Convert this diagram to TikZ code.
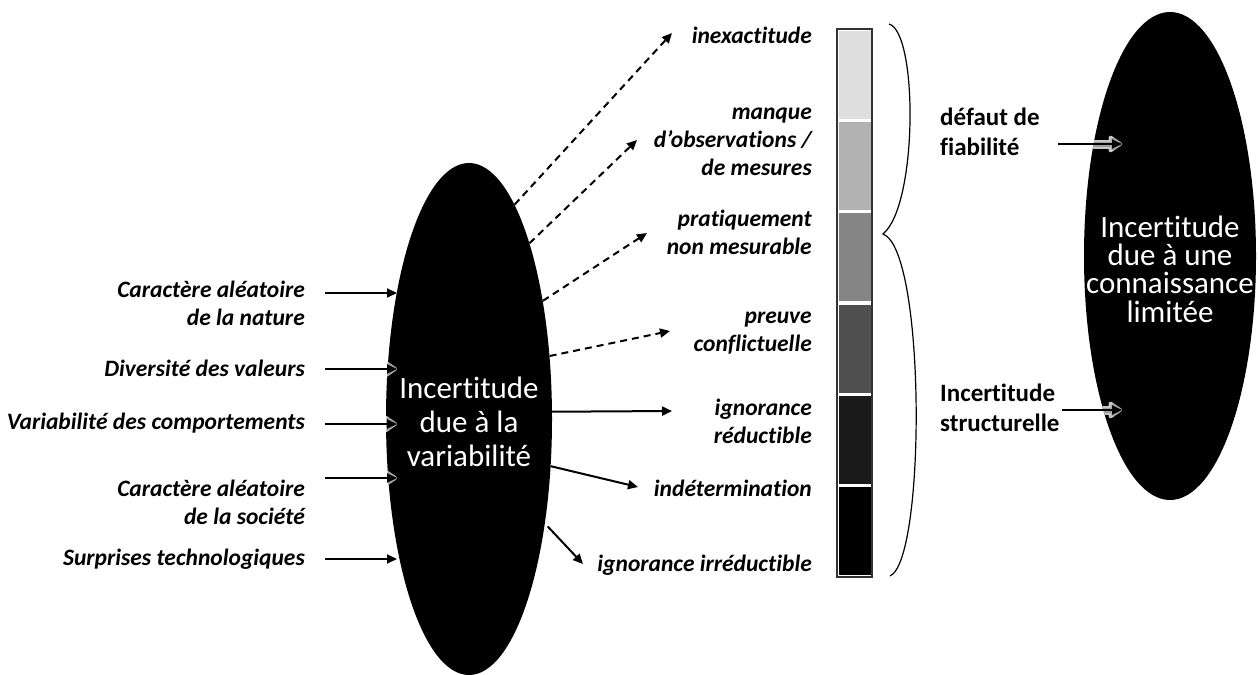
\documentclass[tikz,border=0pt]{standalone}
\usepackage{fontspec}
\setmainfont{Carlito}[Ligatures={NoCommon}]
\usetikzlibrary{shapes.geometric,arrows.meta,positioning}
\definecolor{tone1}{HTML}{DEDEDE}
\definecolor{tone2}{HTML}{B2B2B2}
\definecolor{tone3}{HTML}{858585}
\definecolor{tone4}{HTML}{4F4F4F}
\definecolor{tone5}{HTML}{1A1A1A}
\definecolor{tone6}{HTML}{000000}

\begin{document}
\begin{tikzpicture}[x=1pt,y=-1pt]
\tikzset{
  cause/.style={anchor=east, align=right, inner sep=0pt, font=\fontsize{23.5}{28}\selectfont\bfseries\itshape},
  kindlbl/.style={cause},
  source/.style={anchor=west, align=left, inner sep=0pt, font=\fontsize{25}{30}\selectfont\bfseries},
  blob/.style={ellipse, fill=black, inner sep=0pt},
  blobtext/.style={text=white, align=center, inner sep=0pt},
  seg/.style={minimum width=35pt, minimum height=91.33pt, inner sep=0pt, outer sep=0pt, draw=white, line width=3pt},
  arr/.style={line width=2pt, -{Triangle[length=10pt,width=9pt]}},
  glow/.style={line width=9pt, draw=gray!45, line cap=round, -{Triangle[length=15pt,width=19pt,round]},
    postaction={draw=gray!75, line width=5pt, -{Triangle[length=12pt,width=14pt,round]}}},
  dasharr/.style={arr, dash pattern=on 7pt off 5pt}
}
        \useasboundingbox (0,0) rectangle (1259,675);

        \node[blob, minimum width=166pt, minimum height=512pt] (varia) at (469,419) {};
        \node[blobtext, font=\fontsize{31}{34}\selectfont] (variatxt) at (469,422) {Incertitude\\due à la\\variabilité};
        \node[blob, minimum width=172pt, minimum height=488pt] (conna) at (1170,256) {};
        \node[blobtext, font=\fontsize{31}{28.3}\selectfont] (connatxt) at (1170,269) {Incertitude\\due à une\\connaissance\\limitée};

        \node[seg, fill=tone1] (s1) at (854.5,74.67) {};
        \node[seg, fill=tone2, below=0pt of s1] (s2) {};
        \node[seg, fill=tone3, below=0pt of s2] (s3) {};
        \node[seg, fill=tone4, below=0pt of s3] (s4) {};
        \node[seg, fill=tone5, below=0pt of s4] (s5) {};
        \node[seg, fill=tone6, below=0pt of s5] (s6) {};
        \draw[line width=1.2pt, black!80] (s1.north west) rectangle (s6.south east);

        \draw[line width=1.2pt] (889,24) .. controls (918,32) and (918,205) .. (883,234)
            .. controls (926,250) and (926,560) .. (890,576);

        \node[cause] (cnat) at (305,303) {Caractère aléatoire\\de la nature};
        \node[cause] (cval) at (305,368) {Diversité des valeurs};
        \node[cause] (ccomp) at (305,423) {Variabilité des comportements};
        \node[cause] (csoc) at (305,502) {Caractère aléatoire\\de la société};
        \node[cause] (ctech) at (305,559) {Surprises technologiques};

        \node[source] (sfiab) at (940,132) {défaut de\\fiabilité};
        \node[source] (sstruc) at (940,408) {Incertitude\\structurelle};

        \coordinate (inA) at (397,293);
        \coordinate (inB) at (397,369);
        \coordinate (inC) at (397,424);
        \coordinate (inD) at (397,478);
        \coordinate (inE) at (397,559);
        \coordinate (inF) at (1122,144);
        \coordinate (inG) at (1122,410);

        \begin{scope}
        \clip (varia.center) ellipse [x radius=83, y radius=256];
        \draw[glow] (cnat.east |- inA) -- (inA);
        \draw[glow] (cval.east |- inB) -- (inB);
        \draw[glow] (ccomp.east |- inC) -- (inC);
        \draw[glow] (csoc.east |- inD) -- (inD);
        \draw[glow] (ctech.east |- inE) -- (inE);
        \end{scope}
        \begin{scope}
        \clip (conna.center) ellipse [x radius=86, y radius=244];
        \draw[glow] (sfiab.east |- inF) -- (inF);
        \draw[glow] (sstruc.east |- inG) -- (inG);
        \end{scope}

        \draw[arr, shorten <=20pt] (cnat.east |- inA) -- (inA);
        \draw[arr, shorten <=20pt] (cval.east |- inB) -- (inB);
        \draw[arr, shorten <=20pt] (ccomp.east |- inC) -- (inC);
        \draw[arr, shorten <=20pt] (csoc.east |- inD) -- (inD);
        \draw[arr, shorten <=20pt] (ctech.east |- inE) -- (inE);
        \draw[arr, shorten <=18pt] (sfiab.east |- inF) -- (inF);
        \draw[arr, shorten <=2pt] (sstruc.east |- inG) -- (inG);

        \node[kindlbl] (kinex) at (812,35) {inexactitude};
        \node[kindlbl] (kmanq) at (812,142) {manque\\d’observations /\\de mesures};
        \node[kindlbl] (kprat) at (812,232) {pratiquement\\non mesurable};
        \node[kindlbl] (kpreu) at (812,333) {preuve\\conflictuelle};
        \node[kindlbl] (kred) at (812,421) {ignorance\\réductible};
        \node[kindlbl] (kindet) at (812,488) {indétermination};
        \node[kindlbl] (kirr) at (812,565) {ignorance irréductible};

        \coordinate (tA) at (672,33);
        \coordinate (tB) at (637,140);
        \coordinate (tC) at (647,233);
        \coordinate (tD) at (670,331);
        \coordinate (tE) at (672,411);
        \coordinate (tF) at (638,487);
        \coordinate (tG) at (583,564);
        \draw[dasharr] (varia.78) -- (tA);
        \draw[dasharr] (varia.71) -- (tB);
        \draw[dasharr] (varia.58) -- (tC);
        \draw[dasharr] (varia.38) -- (tD);
        \draw[arr] (varia.5) -- (tE);
        \draw[arr] (varia.-30) -- (tF);
        \draw[arr, shorten <=4pt] (varia.-54) -- (tG);
\end{tikzpicture}
\end{document}
